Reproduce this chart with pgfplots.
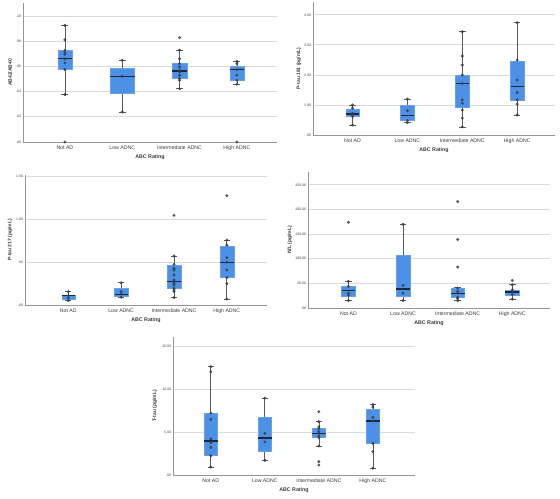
\documentclass[border=0pt]{standalone}
\usepackage{pgfplots}
\pgfplotsset{compat=1.18}
\usepgfplotslibrary{statistics}
\usepackage{fontspec}
\setmainfont{Liberation Sans}
\definecolor{boxblue}{RGB}{77,145,230}
\definecolor{medline}{RGB}{25,40,60}
\definecolor{ptcol}{RGB}{60,60,60}
\definecolor{gridc}{RGB}{218,218,218}
\definecolor{spinec}{RGB}{150,150,150}
\definecolor{txt}{RGB}{60,60,60}
\pgfplotsset{
  spss/.style={
    scale only axis,
    anchor=south west,
    axis x line*=bottom, axis y line*=left,
    axis line style={-, spinec, line width=0.6pt},
    ymajorgrids, grid style={gridc, line width=0.9pt},
    major tick length=0pt,
    xtick={1,2,3,4},
    xticklabels={Not AD, Low ADNC, Intermediate ADNC, High ADNC},
    xticklabel style={font=\fontsize{5.2}{6}\selectfont, text=txt, yshift=-0.5bp},
    yticklabel style={font=\fontsize{3.5}{4}\selectfont, text=txt, xshift=-0.3bp, inner sep=1.5bp},
    every axis y label/.style={at={(axis description cs:-0.054,0.5)}, rotate=90, anchor=center, font=\bfseries\fontsize{5}{6}\selectfont, text=txt},
    every axis x label/.style={at={(axis description cs:0.5,0)}, anchor=center, yshift=-15.5bp, font=\bfseries\fontsize{5.3}{6}\selectfont, text=txt},
    xlabel={ABC Rating},
    clip=false,
    boxplot/draw direction=y,
    boxplot/every median/.style={medline, line width=1.1pt},
    boxplot/every whisker/.style={gray!70!black, line width=0.7pt},
    boxplot/every box/.style={fill=boxblue, draw=boxblue!85!white, line width=0.4pt},
  },
  pts/.style={only marks, mark=*, mark size=1.3pt, ptcol, fill=ptcol, fill opacity=0.8, draw opacity=0.8},
}
\newcommand{\bx}[7]{\addplot[boxplot prepared={draw position=#1, lower whisker=#2, lower quartile=#3, median=#4, upper quartile=#5, upper whisker=#6, box extend=#7, whisker extend=0.12}] coordinates {};}
\begin{document}
\begin{tikzpicture}
\useasboundingbox (0,0) rectangle (560bp,499bp);
% Panel 1
\begin{axis}[spss, at={(23bp,357bp)}, width=254bp, height=139bp,
  xmin=0.27, xmax=4.7, ymin=0, ymax=0.1103,
  ytick={0,0.02,0.04,0.06,0.08,0.10}, yticklabels={.00,.02,.04,.06,.08,.10},
  ylabel={AB42/AB40}, ylabel style={at={(axis description cs:-0.051,0.5)}}]
\bx{1}{0.0376}{0.0574}{0.0659}{0.0728}{0.0926}{0.24}
\bx{2}{0.0238}{0.0384}{0.0521}{0.0582}{0.0648}{0.43}
\bx{3}{0.0423}{0.0503}{0.0563}{0.0622}{0.0728}{0.26}
\bx{4}{0.0458}{0.049}{0.0574}{0.060}{0.064}{0.25}
\addplot[pts] coordinates {
(1,0.0926)(1,0.081)(1,0.0728)(1,0.071)(1,0.0696)(1,0.0659)(1,0.0627)(1,0.0574)(1,0.0376)(1,0)
(2,0.0648)(2,0.0521)(2,0.0238)
(3,0.0828)(3,0.0728)(3,0.066)(3,0.0622)(3,0.0595)(3,0.0569)(3,0.0556)(3,0.053)(3,0.0503)(3,0.049)(3,0.0423)
(4,0.064)(4,0.0622)(4,0.0574)(4,0.053)(4,0.049)(4,0.0458)(4,0)};
\end{axis}
% Panel 2
\begin{axis}[spss, at={(313bp,364bp)}, width=242bp, height=133bp,
  xmin=0.28, xmax=4.69, ymin=0, ymax=4.43,
  ytick={0,1,2,3,4}, yticklabels={.00,1.00,2.00,3.00,4.00},
  ylabel={P-tau 181 (pg/mL)}, ylabel style={at={(axis description cs:-0.058,0.5)}}]
\bx{1}{0.33}{0.61}{0.70}{0.87}{1.0}{0.24}
\bx{2}{0.41}{0.48}{0.66}{0.98}{1.2}{0.25}
\bx{3}{0.27}{0.94}{1.72}{1.98}{3.44}{0.24}
\bx{4}{0.67}{1.17}{1.62}{2.47}{3.74}{0.24}
\addplot[pts] coordinates {
(1,1.0)(1,0.89)(1,0.72)(1,0.67)(1,0.61)(1,0.33)
(2,1.2)(2,0.81)(2,0.48)(2,0.41)
(3,3.44)(3,2.63)(3,2.33)(3,2.0)(3,1.72)(3,1.17)(3,1.06)(3,0.83)(3,0.56)(3,0.27)
(4,3.74)(4,2.5)(4,1.83)(4,1.41)(4,1.17)(4,1.03)(4,0.67)};
\end{axis}
% Panel 3
\begin{axis}[spss, at={(25bp,194bp)}, width=242bp, height=130bp,
  xmin=0.18, xmax=4.76, ymin=0, ymax=1.52,
  ytick={0,0.5,1,1.5}, yticklabels={.00,.50,1.00,1.50},
  ylabel={P-tau 217 (pg/mL)}, ylabel style={at={(axis description cs:-0.062,0.5)}}]
\bx{1}{0.05}{0.07}{0.109}{0.117}{0.156}{0.25}
\bx{2}{0.09}{0.105}{0.128}{0.195}{0.26}{0.25}
\bx{3}{0.086}{0.195}{0.273}{0.46}{0.573}{0.27}
\bx{4}{0.07}{0.32}{0.50}{0.69}{0.76}{0.26}
\addplot[pts] coordinates {
(1,0.156)(1,0.109)(1,0.078)(1,0.05)
(2,0.26)(2,0.156)(2,0.128)(2,0.09)
(3,1.048)(3,0.573)(3,0.475)(3,0.428)(3,0.409)(3,0.35)(3,0.292)(3,0.27)(3,0.253)(3,0.234)(3,0.195)(3,0.175)(3,0.156)(3,0.086)
(4,1.278)(4,0.76)(4,0.70)(4,0.553)(4,0.50)(4,0.41)(4,0.32)(4,0.25)(4,0.07)};
\end{axis}
% Panel 4
\begin{axis}[spss, at={(308bp,191bp)}, width=242bp, height=136bp,
  xmin=0.26, xmax=4.69, ymin=0, ymax=276,
  ytick={0,50,100,150,200,250}, yticklabels={.00,50.00,100.00,150.00,200.00,250.00},
  ylabel={NfL (pg/mL)}, ylabel style={at={(axis description cs:-0.075,0.5)}}]
\bx{1}{15}{24}{35}{45}{54}{0.25}
\bx{2}{15}{24}{38.5}{107}{170}{0.26}
\bx{3}{15}{21.6}{30}{40}{41}{0.25}
\bx{4}{18}{25.7}{32.5}{36}{47}{0.25}
\addplot[pts] coordinates {
(1,174)(1,54)(1,44)(1,30)(1,25.7)(1,15)
(2,170)(2,46)(2,30)(2,15)
(3,216)(3,139)(3,83)(3,40.5)(3,33.8)(3,30)(3,21.6)(3,18.9)(3,15)
(4,56)(4,47)(4,37)(4,31.8)(4,27)(4,18)};
\end{axis}
% Panel 5
\begin{axis}[spss, at={(173bp,24bp)}, width=242bp, height=138bp,
  xmin=0.30, xmax=4.78, ymin=0, ymax=16.05,
  ytick={0,5,10,15}, yticklabels={.00,5.00,10.00,15.00},
  ylabel={T-tau (pg/mL)}, ylabel style={at={(axis description cs:-0.075,0.5)}}]
\bx{1}{0.93}{2.25}{3.95}{7.2}{12.6}{0.25}
\bx{2}{1.7}{2.79}{4.3}{6.78}{8.95}{0.25}
\bx{3}{3.37}{4.34}{4.84}{5.39}{6.2}{0.25}
\bx{4}{0.78}{3.68}{6.28}{7.67}{8.18}{0.25}
\addplot[pts] coordinates {
(1,12.6)(1,12.0)(1,7.2)(1,6.47)(1,4.2)(1,3.76)(1,3.2)(1,2.25)(1,0.93)
(2,8.95)(2,4.84)(2,3.84)(2,1.7)
(3,7.36)(3,6.2)(3,5.6)(3,5.39)(3,5.04)(3,4.84)(3,4.53)(3,4.34)(3,3.37)(3,1.55)(3,1.16)
(4,8.18)(4,7.9)(4,6.7)(4,6.28)(4,3.68)(4,2.71)(4,0.78)};
\end{axis}
\end{tikzpicture}
\end{document}
